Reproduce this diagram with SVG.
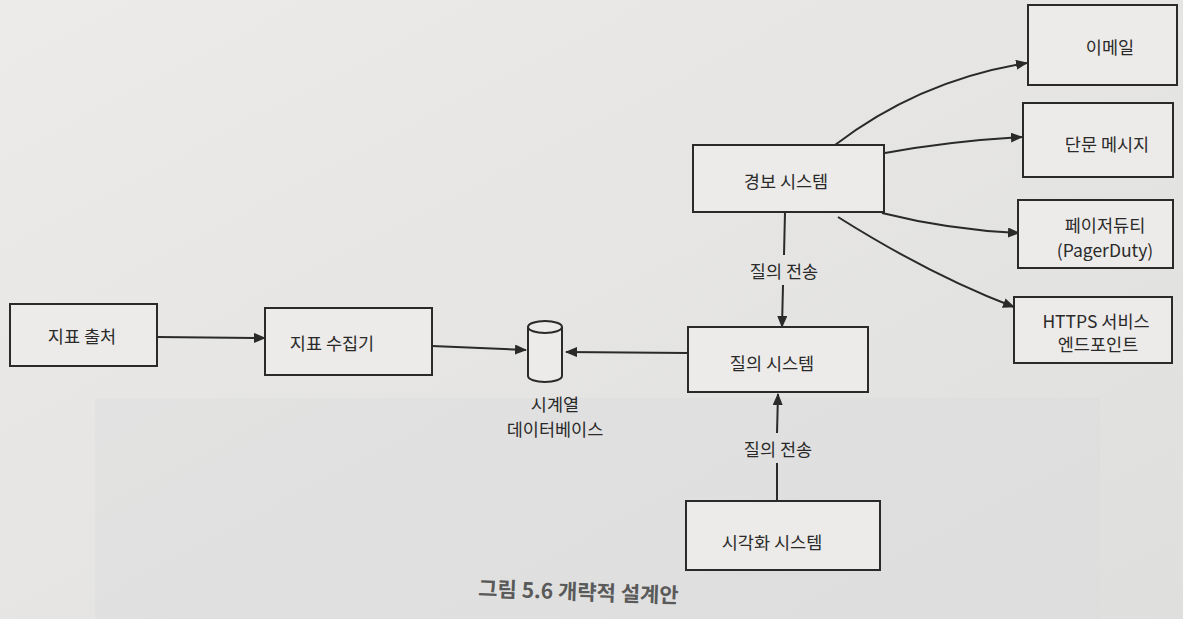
<svg xmlns="http://www.w3.org/2000/svg" width="1183" height="619" viewBox="0 0 1183 619">
<defs>
<marker id="arr" markerWidth="12" markerHeight="10" refX="11" refY="5" orient="auto" markerUnits="userSpaceOnUse">
<path d="M0,0 L12,5 L0,10 Z" fill="#2a2a2a"/>
</marker>
<linearGradient id="bg" x1="0" y1="0" x2="1" y2="1">
<stop offset="0" stop-color="#ecebe9"/>
<stop offset="1" stop-color="#dfdfde"/>
</linearGradient>
</defs>
<style>
.box{fill:#ecebe9;stroke:#2a2a2a;stroke-width:2}
.t{font-family:"Noto Sans CJK KR","Noto Sans",sans-serif;font-size:17.5px;fill:#2a2a2a;text-anchor:middle;dominant-baseline:central}
.c{fill:none;stroke:#2a2a2a;stroke-width:2}
</style>
<rect width="1183" height="619" fill="url(#bg)"/>
<rect x="95" y="398" width="1005" height="221" fill="#d9dbdd" opacity="0.35"/>
<g id="connectors">
<line class="c" x1="157" y1="337" x2="265" y2="338" marker-end="url(#arr)"/>
<line class="c" x1="432" y1="346" x2="526" y2="350" marker-end="url(#arr)"/>
<line class="c" x1="688" y1="353" x2="566" y2="352" marker-end="url(#arr)"/>
<line class="c" x1="785" y1="212" x2="784" y2="255"/>
<line class="c" x1="783" y1="285" x2="782" y2="327" marker-end="url(#arr)"/>
<line class="c" x1="777" y1="500" x2="777" y2="463"/>
<line class="c" x1="777" y1="433" x2="778" y2="394" marker-end="url(#arr)"/>
<path class="c" d="M835,145 Q920,80 1027,63" marker-end="url(#arr)"/>
<path class="c" d="M885,153 Q950,141 1022,137" marker-end="url(#arr)"/>
<path class="c" d="M882,213 Q950,230 1019,233" marker-end="url(#arr)"/>
<path class="c" d="M838,217 Q930,275 1014,307" marker-end="url(#arr)"/>
<text class="t" x="784" y="270">질의 전송</text>
<text class="t" x="778" y="448">질의 전송</text>
</g>
<g id="metric-source">
<rect class="box" x="10" y="304" width="147" height="62"/>
<text class="t" x="82" y="335">지표 출처</text>
</g>
<g id="metric-collector">
<rect class="box" x="265" y="308" width="167" height="67"/>
<text class="t" x="332" y="342">지표 수집기</text>
</g>
<g id="tsdb">
<path class="box" d="M528,327 L528,376 A17,6 0 0 0 562,376 L562,327"/>
<ellipse class="box" cx="545" cy="327" rx="17" ry="6"/>
<text class="t" x="555" y="403">시계열</text>
<text class="t" x="555" y="428">데이터베이스</text>
</g>
<g id="query-system">
<rect class="box" x="688" y="327" width="180" height="65"/>
<text class="t" x="772" y="362">질의 시스템</text>
</g>
<g id="alert-system">
<rect class="box" x="693" y="145" width="191" height="67"/>
<text class="t" x="786" y="180">경보 시스템</text>
</g>
<g id="email">
<rect class="box" x="1028" y="5" width="149" height="80"/>
<text class="t" x="1110" y="46">이메일</text>
</g>
<g id="sms">
<rect class="box" x="1023" y="103" width="150" height="74"/>
<text class="t" x="1107" y="143">단문 메시지</text>
</g>
<g id="pagerduty">
<rect class="box" x="1018" y="200" width="155" height="68"/>
<text class="t" x="1105" y="224">페이저듀티</text>
<text class="t" x="1105" y="249">(PagerDuty)</text>
</g>
<g id="https">
<rect class="box" x="1014" y="297" width="158" height="66"/>
<text class="t" x="1096" y="320">HTTPS 서비스</text>
<text class="t" x="1098" y="343">엔드포인트</text>
</g>
<g id="visualization">
<rect class="box" x="686" y="501" width="194" height="69"/>
<text class="t" x="772" y="541">시각화 시스템</text>
</g>
<text x="478" y="596" transform="rotate(2 478 596)" style="font-family:'Noto Sans CJK KR','Noto Sans',sans-serif;font-size:21px;font-weight:bold;fill:#5a5a5a">그림 5.6 개략적 설계안</text>
</svg>
